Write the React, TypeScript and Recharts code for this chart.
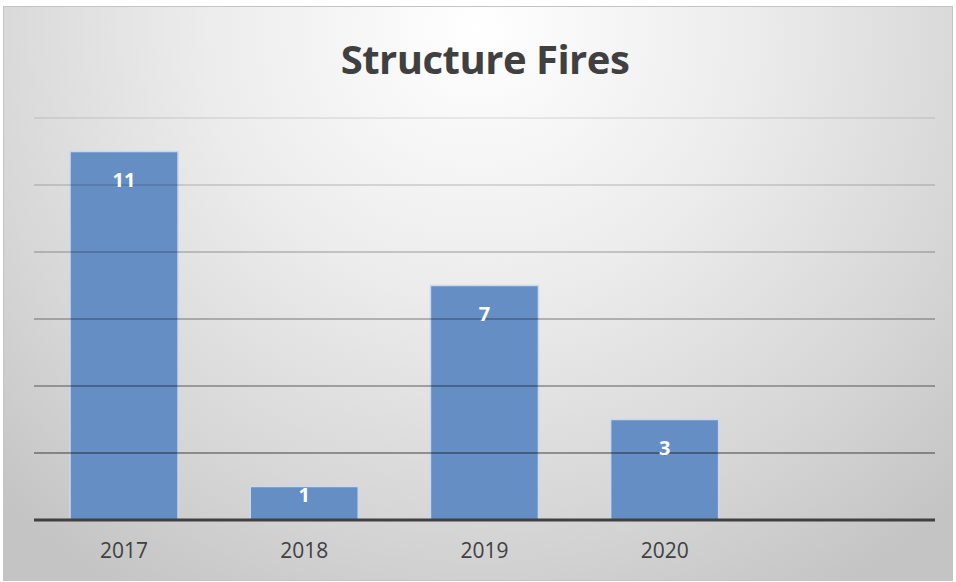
import { BarChart, Bar, XAxis, YAxis, ReferenceLine, LabelList } from "recharts";

const years = ["2017", "2018", "2019", "2020", ""];
const fires = [11, 1, 7, 3, null];
const yTicks = [2, 4, 6, 8, 10, 12];

const data = years.map((year, i) => ({ year, fires: fires[i] }));

function InsideLabel(props: any) {
  const { x, y, width, height, value } = props;
  if (value == null) return null;
  const dy = Math.min(28, Math.max(height / 2 - 9, 8));
  return (
    <text
      x={x + width / 2}
      y={y + dy}
      textAnchor="middle"
      dominantBaseline="central"
      fill="#fff"
      fontWeight={700}
      fontSize={20}
      fontFamily="'Open Sans', sans-serif"
    >
      {value}
    </text>
  );
}

export default function App() {
  return (
    <div style={{ position: "absolute", left: 0, top: 0, width: 956, height: 582 }}>
      <div
        style={{
          position: "absolute",
          left: 3,
          top: 6,
          width: 948,
          height: 573,
          border: "1px solid #c4c4c4",
          background:
            "radial-gradient(ellipse 72% 115% at 50% 4%, #ffffff 0%, #ececec 40%, #d6d6d6 75%, #c4c4c4 100%)",
        }}
      />
      <div
        style={{
          position: "absolute",
          left: 7,
          top: 31,
          width: 956,
          textAlign: "center",
          fontFamily: "'Open Sans', sans-serif",
          fontWeight: 700,
          fontSize: 40,
          color: "#404040",
          letterSpacing: -0.5,
        }}
      >
        Structure Fires
      </div>
      <div style={{ position: "absolute", left: 0, top: 0 }}>
        <BarChart
          width={956}
          height={582}
          data={data}
          margin={{ top: 118, right: 21, bottom: 32, left: 34 }}
          barCategoryGap="20%"
        >
          <YAxis hide domain={[0, 12]} ticks={yTicks} />
          <XAxis
            dataKey="year"
            height={30}
            axisLine={{ stroke: "#404040", strokeWidth: 3 }}
            tickLine={false}
            tickMargin={17}
            tick={{ fill: "#404040", fontSize: 21, fontFamily: "'Open Sans', sans-serif" }}
          />
          <Bar
            dataKey="fires"
            fill="#658fc4"
            stroke="#c9d8ec"
            strokeWidth={1.5}
            isAnimationActive={false}
          >
            <LabelList dataKey="fires" content={InsideLabel} />
          </Bar>
          {yTicks.map((t) => (
            <ReferenceLine
              key={t}
              y={t}
              stroke="#000"
              strokeOpacity={0.07 + (12 - t) * 0.028}
              strokeWidth={2}
            />
          ))}
        </BarChart>
      </div>
    </div>
  );
}
